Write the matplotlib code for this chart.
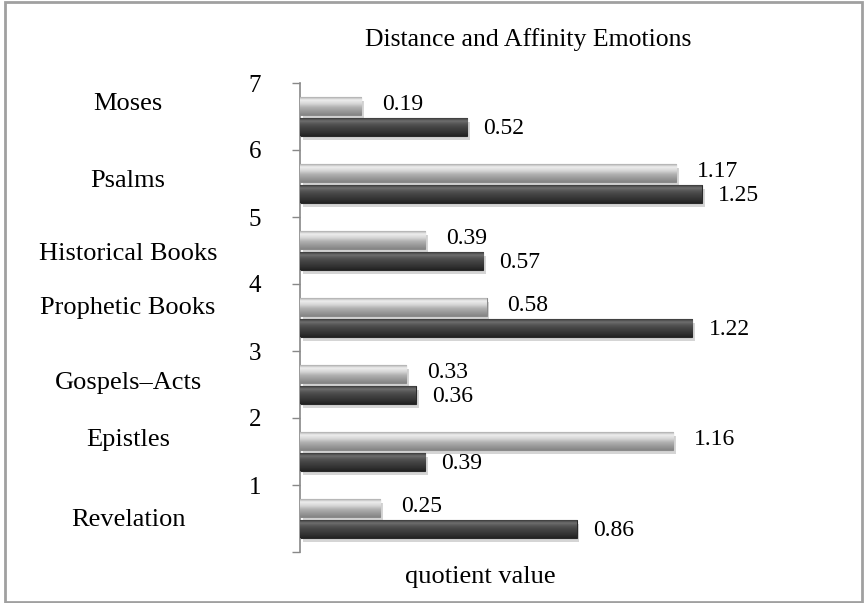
import numpy as np
import matplotlib
matplotlib.use('Agg')
import matplotlib.pyplot as plt
from matplotlib.colors import LinearSegmentedColormap
from matplotlib.patches import Rectangle
import matplotlib.patheffects as pe
import matplotlib.transforms as mtransforms

matplotlib.rcParams['font.family'] = 'serif'
matplotlib.rcParams['font.serif'] = ['Liberation Serif', 'DejaVu Serif']

# Datos (de abajo hacia arriba)
categories = ['Revelation', 'Epistles', 'Gospels–Acts', 'Prophetic Books',
              'Historical Books', 'Psalms', 'Moses']
distance = [0.25, 1.16, 0.33, 0.58, 0.39, 1.17, 0.19]   # barra clara
affinity = [0.86, 0.39, 0.36, 1.22, 0.57, 1.25, 0.52]   # barra oscura
tick_labels = ['', '1', '2', '3', '4', '5', '6', '7']
# posicion vertical de los nombres (unidades del eje)
label_pos = [0.48, 1.67, 2.52, 3.64, 4.45, 5.54, 6.69]

fig = plt.figure(figsize=(8.65, 6.03), dpi=100)
ax = fig.add_axes([300 / 865, 1 - 552 / 603, 520 / 865, 469 / 603])

y = np.arange(len(categories)) + 0.5
h = 0.27
off = 0.155

shadow = [pe.SimplePatchShadow(offset=(2, -3), shadow_rgbFace='#888888', alpha=0.35), pe.Normal()]
light = ax.barh(y + off, distance, height=h, color='#b4b4b4', edgecolor='#8a8a8a',
                linewidth=0.8, zorder=2, path_effects=shadow)
dark = ax.barh(y - off, affinity, height=h, color='#454545', edgecolor='#2a2a2a',
               linewidth=0.8, zorder=2, path_effects=shadow)


# Degradado tipo 3D dentro de cada barra
def gradient_bar(patch, cols):
    x0, y0 = patch.get_x(), patch.get_y()
    w, hh = patch.get_width(), patch.get_height()
    cmap = LinearSegmentedColormap.from_list('g', cols)
    grad = np.linspace(0, 1, 64).reshape(-1, 1)
    im = ax.imshow(grad, cmap=cmap, extent=[x0, x0 + w, y0, y0 + hh], origin='upper',
                   aspect='auto', zorder=3, interpolation='bilinear')
    im.set_clip_path(patch)


light_cols = ['#9a9a9a', '#eeeeee', '#d6d6d6', '#b0b0b0', '#9a9a9a', '#858585']
dark_cols = ['#2a2a2a', '#6e6e6e', '#505050', '#404040', '#333333', '#222222']
for p in light:
    gradient_bar(p, light_cols)
for p in dark:
    gradient_bar(p, dark_cols)

ax.set_xlim(0, 520 / 321.6)
ax.set_ylim(0, 7)

# Etiquetas de valores
for yy, v in zip(y, distance):
    ax.text(v + 0.065, yy + off + 0.02, f'{v:.2f}', fontsize=17, ha='left', va='center')
for yy, v in zip(y, affinity):
    ax.text(v + 0.05, yy - off - 0.03, f'{v:.2f}', fontsize=17, ha='left', va='center')

# Nombres de categorias a la izquierda
trans = mtransforms.blended_transform_factory(fig.transFigure, ax.transData)
for lp, name in zip(label_pos, categories):
    ax.text(128 / 865, lp, name, transform=trans, fontsize=19,
            ha='center', va='center', clip_on=False)

ax.set_yticks(range(8))
ax.set_yticklabels(tick_labels, fontsize=18)
ax.tick_params(axis='y', length=6, width=1, color='#888888', pad=22)
ax.set_xticks([])
for s in ['top', 'right', 'bottom']:
    ax.spines[s].set_visible(False)
ax.spines['left'].set_color('#888888')
ax.spines['left'].set_linewidth(1.2)

fig.text(528 / 865, 1 - 40 / 603, 'Distance and Affinity Emotions', fontsize=18.5,
         ha='center', va='center')
fig.text(480 / 865, 1 - 577 / 603, 'quotient value', fontsize=19, ha='center', va='center')

# Marco de la figura
fig.patches.append(Rectangle((5 / 865, 1 / 603), 857 / 865, 600 / 603, transform=fig.transFigure,
                             fill=False, edgecolor='#a0a0a0', linewidth=2))

fig.savefig('out.png', dpi=100)
